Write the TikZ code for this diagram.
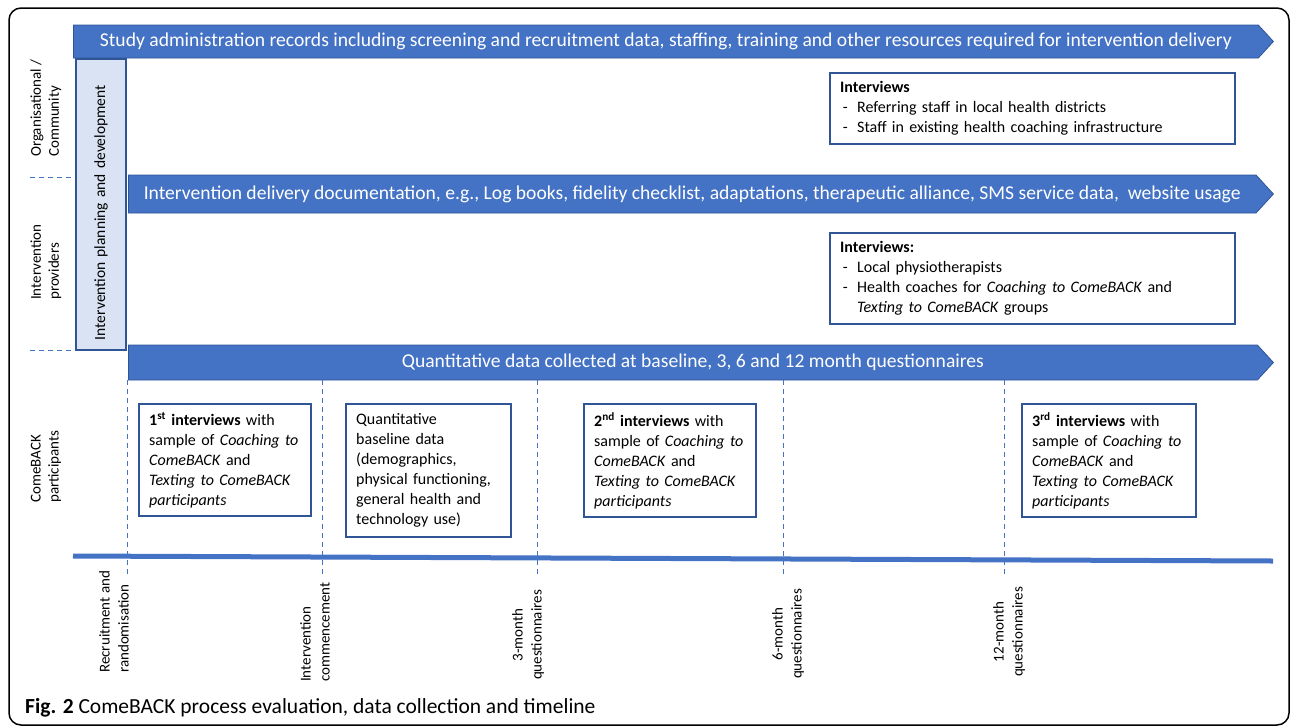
\documentclass[tikz,border=0pt]{standalone}
\usepackage{fontspec}
\setmainfont{Carlito}
\usetikzlibrary{shapes.symbols,positioning}
\definecolor{office}{HTML}{4472C4}
\definecolor{officedark}{HTML}{2F5597}
\definecolor{paleblue}{HTML}{DAE3F3}
\newcommand{\dashitem}{\makebox[17pt][l]{\,-}}
\tikzset{
  band/.style={signal,signal to=east,signal pointer angle=95,draw=officedark,
               line width=0.8pt,fill=office,text=white,inner sep=0pt,anchor=west,
               font=\fontsize{19.6}{23}\selectfont},
  infobox/.style={draw=officedark,line width=2.4pt,fill=white,anchor=north west,
                  align=left,inner xsep=10pt,inner ysep=0pt,
                  font=\fontsize{16}{20}\selectfont},
  planbox/.style={draw=officedark,line width=2.4pt,fill=paleblue,rotate=90,
                  align=left,inner xsep=10pt,inner ysep=0pt,
                  font=\fontsize{15.5}{18}\selectfont},
  rowlabel/.style={rotate=90,align=left,inner sep=0pt,anchor=west,
                   font=\fontsize{15}{18}\selectfont},
  timelabel/.style={rotate=90,inner sep=0pt,font=\fontsize{15}{19}\selectfont},
  milestone/.style={draw=office,line width=0.9pt,dash pattern=on 5pt off 4pt},
  timeline/.style={draw=office,line width=5pt}
}

\begin{document}
\begin{tikzpicture}[x=1pt,y=-1pt]
\useasboundingbox (0,0) rectangle (1290,726);
\draw[line width=1.5pt,rounded corners=12pt] (9,8) rectangle (1289,725);

% row labels
\node[rowlabel] (org) at (46,157) {Organisational /\\Community};
\node[rowlabel] (prov) at (46,300) {Intervention\\providers};
\node[rowlabel] (part) at (46,503) {ComeBACK\\participants};
\coordinate (sep1a) at (30,177);
\coordinate (sep1b) at (76,177);
\coordinate (sep2a) at (30,350);
\coordinate (sep2b) at (76,350);
\draw[milestone] (sep1a) -- (sep1b);
\draw[milestone] (sep2a) -- (sep2b);

% data streams
\node[band,minimum width=1200pt,minimum height=33pt] (admin) at (73,41.5)
  {Study administration records including screening and recruitment data, staffing, training and other resources required for intervention delivery};
\node[band,minimum width=1145pt,minimum height=38pt] (delivery) at (128,194)
  {Intervention delivery documentation, e.g., Log books, fidelity checklist, adaptations, therapeutic alliance, SMS service data,\ \ website usage};
\node[band,minimum width=1145pt,minimum height=35pt] (quant) at (128,362.5)
  {Quantitative data collected at baseline, 3, 6 and 12 month questionnaires};
\node[planbox,minimum width=291pt,minimum height=50pt,text width=271pt] (plan) at (101,204.5)
  {Intervention planning and development};

% milestones
\foreach \x [count=\i] in {127,322,537,783,1004}{
  \coordinate (mtop\i) at (\x,380);
  \coordinate (mbot\i) at (\x,574);
  \draw[milestone] (mtop\i) -- (mbot\i);
}
\coordinate (tlstart) at (73,556);
\coordinate (tlend) at (1273,561);
\draw[timeline] (tlstart) -- (tlend);

% interview boxes
\node[infobox,text width=385pt,minimum height=71pt] (orgint) at (829,72)
  {\textbf{Interviews}\\
   \dashitem Referring staff in local health districts\\
   \dashitem Staff in existing health coaching infrastructure};
\node[infobox,text width=385pt,minimum height=91pt] (provint) at (829,232)
  {\textbf{Interviews:}\\
   \dashitem Local physiotherapists\\
   \dashitem Health coaches for \textit{Coaching to ComeBACK} and\\
   \hspace*{17pt}\textit{Texting to ComeBACK} groups};
\node[infobox,text width=152pt,minimum height=112pt] (first) at (138,403)
  {\textbf{1\textsuperscript{st} interviews} with\\
   sample of \textit{Coaching to}\\
   \textit{ComeBACK} and\\
   \textit{Texting to ComeBACK}\\
   \textit{participants}};
\node[infobox,text width=145pt,minimum height=133pt] (base) at (345,403)
  {Quantitative\\
   baseline data\\
   (demographics,\\
   physical functioning,\\
   general health and\\
   technology use)};
\node[infobox,text width=152pt,minimum height=113pt] (second) at (583,403)
  {\textbf{2\textsuperscript{nd}\ interviews} with\\
   sample of \textit{Coaching to}\\
   \textit{ComeBACK} and\\
   \textit{Texting to ComeBACK}\\
   \textit{participants}};
\node[infobox,text width=154pt,minimum height=113pt] (third) at (1021,403)
  {\textbf{3\textsuperscript{rd} interviews} with\\
   sample of \textit{Coaching to}\\
   \textit{ComeBACK} and\\
   \textit{Texting to ComeBACK}\\
   \textit{participants}};

% time points
\node[timelabel,align=left,anchor=west] (recr) at (114,673) {Recruitment and\\randomisation};
\node[timelabel,align=left,anchor=west] (comm) at (315,682) {Intervention\\commencement};
\node[timelabel,align=center] (m3) at (528,635) {3-month\\questionnaires};
\node[timelabel,align=center] (m6) at (788,634) {6-month\\questionnaires};
\node[timelabel,align=center] (m12) at (1009,632) {12-month\\questionnaires};

% caption
\node[anchor=west,inner sep=0pt,font=\fontsize{21.5}{24}\selectfont] (cap) at (25,708)
  {\textbf{Fig. 2} ComeBACK process evaluation, data collection and timeline};
\end{tikzpicture}
\end{document}
